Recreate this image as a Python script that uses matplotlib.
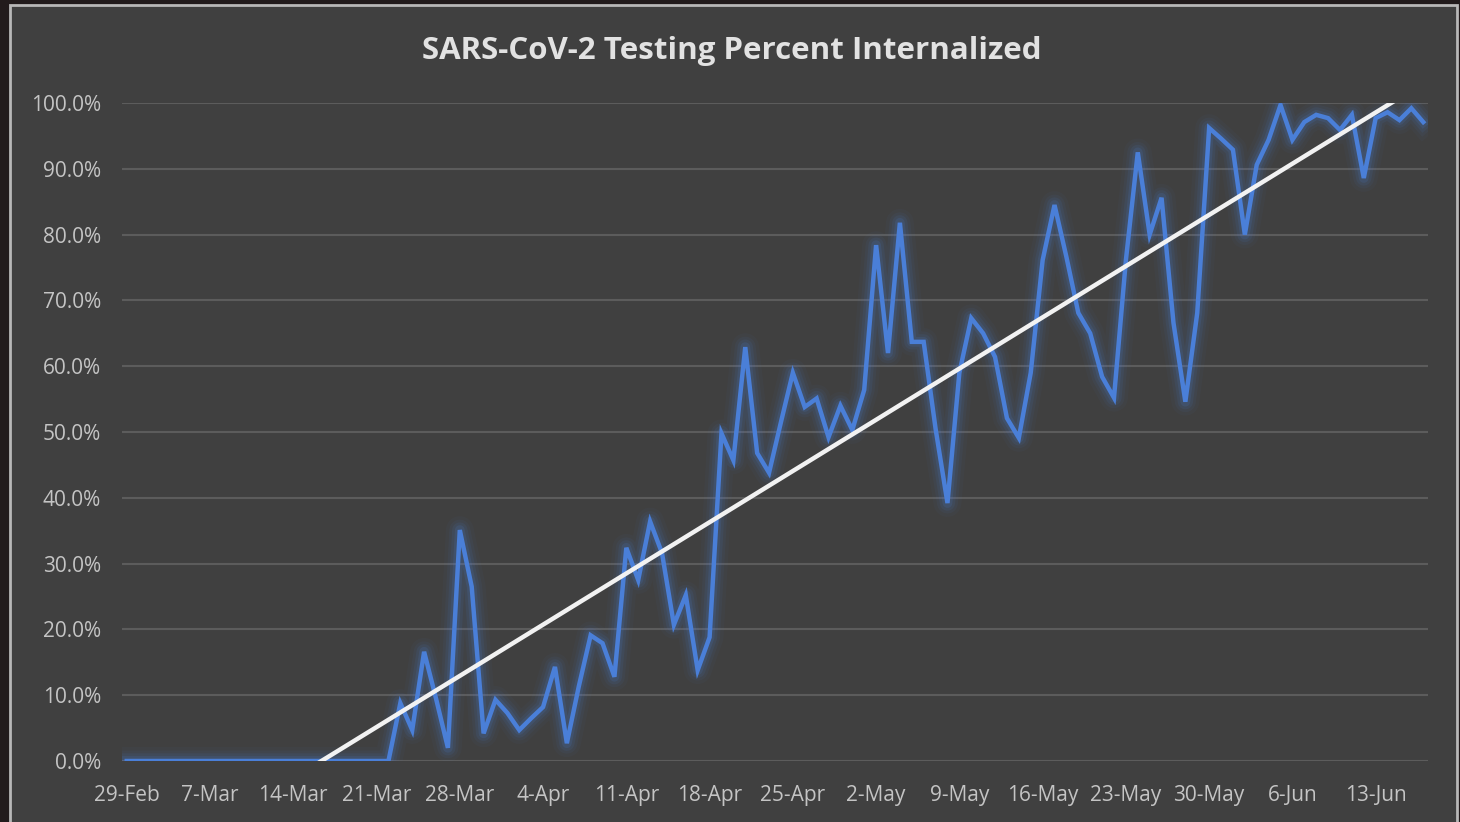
import numpy as np
import pandas as pd
from matplotlib import pyplot as plt
from matplotlib.patches import Rectangle

# daily percent of SARS-CoV-2 tests performed internally, from 29-Feb
start_date = "2020-02-29"
pct_internal = [0.0] * 23 + [
    8.8, 4.7, 16.6, 9.5, 2.0, 35.1, 26.5, 4.2, 9.3, 7.3,
    4.7, 6.5, 8.2, 14.3, 2.7, 11.3, 19.1, 17.9, 12.8, 32.4,
    27.5, 36.4, 31.6, 20.7, 25.2, 13.8, 18.8, 49.8, 45.7, 62.9,
    46.8, 43.8, 51.5, 59.0, 53.8, 55.1, 49.2, 54.0, 50.3, 56.4,
    78.4, 62.0, 81.8, 63.7, 63.7, 50.5, 39.2, 59.0, 67.3, 65.0,
    61.4, 52.1, 49.1, 59.0, 76.1, 84.5, 76.6, 68.1, 65.0, 58.4,
    55.2, 76.1, 92.5, 80.0, 85.6, 66.6, 54.6, 68.1, 96.2, 94.6,
    92.9, 80.0, 90.6, 94.4, 99.7, 94.4, 97.1, 98.2, 97.7, 95.9,
    98.2, 88.6, 97.7, 98.6, 97.4, 99.2, 97.1,
]
# linear trendline (percent per day, percent at 29-Feb)
trend_slope = 1.112
trend_intercept = -18.2
y_ticks = np.arange(0, 101, 10)

dates = pd.date_range(start_date, periods=len(pct_internal), freq="D")
days = np.arange(len(dates))
vals = np.array(pct_internal)
tick_days = days[::7]
tick_labels = [f"{d.day}-{d.strftime('%b')}" for d in dates[::7]]

BG = "#404040"
BLUE = "#4a7fd8"
plt.rcParams["font.family"] = ["Open Sans", "DejaVu Sans"]

fig = plt.figure(figsize=(14.6, 8.22), dpi=100, facecolor="#221b1c")
frame = Rectangle((10 / 1460, -0.05), 1447 / 1460, 1.05 - 5 / 822,
                  transform=fig.transFigure, facecolor=BG,
                  edgecolor="#b8b8b8", linewidth=2, zorder=-5)
fig.patches.append(frame)

ax = fig.add_axes([122 / 1460, 1 - 761 / 822, (1428 - 122) / 1460, (761 - 103) / 822])
ax.set_zorder(2)
ax.patch.set_alpha(0)

# glow under the series
for lw, a in [(20, 0.04), (15, 0.06), (11, 0.09), (7, 0.14)]:
    ax.plot(days, vals, color=BLUE, lw=lw, alpha=a, solid_joinstyle="round", zorder=2)
ax.plot(days, vals, color=BLUE, lw=3.2, solid_joinstyle="miter", zorder=3)

# trend line, clipped by the axis limits like in the original
xt = np.array([days[0] - 1, days[-1] + 1])
ax.plot(xt, trend_slope * xt + trend_intercept, color="#f2f2f2", lw=3.2, zorder=4)

ax.set_xlim(-0.4, 109.4)
ax.set_ylim(0, 100)
ax.set_yticks(y_ticks)
ax.set_yticklabels([f"{t:.1f}%" for t in y_ticks])
ax.set_xticks(tick_days)
ax.set_xticklabels(tick_labels)
ax.grid(axis="y", color="#5c5c5c", lw=1.5)
ax.set_axisbelow(True)
for s in ax.spines.values():
    s.set_visible(False)
ax.tick_params(length=0, colors="#c4c4c4", labelsize=15)
ax.tick_params(axis="y", pad=15)
ax.tick_params(axis="x", pad=17)

fig.text(732 / 1460, 1 - 51 / 822, "SARS-CoV-2 Testing Percent Internalized",
         ha="center", va="center", color="#e2e2e2", fontsize=22.5, fontweight="bold")

plt.savefig("out.png", dpi=100, facecolor=fig.get_facecolor())
